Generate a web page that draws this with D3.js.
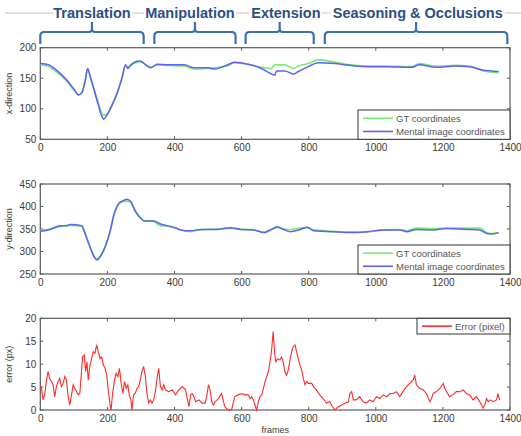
<!DOCTYPE html>
<html><head><meta charset="utf-8">
<script src="https://cdn.jsdelivr.net/npm/d3@7"></script>
<style>
body{margin:0;background:#fff;}
text{font-family:"Liberation Sans",Arial,sans-serif;}
</style></head>
<body><svg id="c" width="521" height="436"></svg>
<script>
// ---- data ----
const phaseNames = ["Translation","Manipulation","Extension","Seasoning & Occlusions"];
const phaseStart = [0,340,612,848];
const phaseEnd = [308,582,815,1392];
const phaseLabelAt = [154,446,732,1125];

const xTicks = [0,200,400,600,800,1000,1200,1400];

const xFrames = [0,24,49,79,99,114,124,134,141,149,169,184,189,199,214,229,244,254,261,269,289,299,314,329,349,379,429,459,499,519,559,579,619,659,689,699,704,729,754,769,799,829,879,939,979,1029,1109,1129,1179,1239,1279,1319,1366];
const xMental = [174,172,163,147,133,122.5,126,147,166,152,114,87,83,90,106,125,152,172,166,171,178,178,172,167,173,172,172,167,167,165,172,176,173,166,157,155,162,162,157,161,169,175.5,174,170,169,169,168,172,168,170,169,163.5,161];
const xGT = [172,169,160,145,131,123,127,146,165,153,117,92,90,91,107,127,150,170,168,172,176,177,172,168,172,171,170,165,166,167,171,175,173,168,166,172,172,172,166,170,174,180,176,171,170,170,169,174,170,171,170,162,159];
const xYTicks = [50,100,150,200];

const yFrames = [0,29,59,79,89,124,129,144,159,169,179,194,209,219,234,244,259,269,284,299,309,338,358,378,407,417,447,477,527,567,596,636,666,676,695,705,725,745,775,795,815,874,923,973,1023,1072,1092,1121,1170,1211,1271,1310,1330,1345,1366];
const yMental = [345,349,357,357,360,357,348,318,290,281,289,311,348,381,407,412,416,411,388,374,368,368,361,357,351,348,346,349,349,353,349,348,342,344,351,354,349,344,349,354,346,344,342,344,348,348,344,349,348,351,349,348,340,339,342];
const yGT = [347,350,355,358,358,356,350,320,292,283,290,313,346,379,405,410,412,410,390,375,369,367,357,357,352,349,344,348,350,352,350,348,343,346,352,356,350,349,352,353,348,345,343,343,348,349,346,352,351,352,352,352,342,340,342];
const yYTicks = [250,300,350,400,450];

const eFrames = [0,3,8,13,18,23,28,33,38,43,48,53,58,63,68,73,78,83,88,93,98,103,108,113,118,123,126,131,135,139,143,148,153,158,163,168,173,178,183,188,193,198,203,208,211,215,221,226,231,236,241,246,251,256,261,265,270,273,278,283,288,293,298,303,308,313,318,323,328,333,338,343,348,353,358,363,368,373,383,393,403,413,423,433,438,443,448,453,458,463,473,483,491,496,501,506,511,516,521,531,540,545,550,560,570,575,580,590,600,610,620,625,630,635,640,645,650,655,660,665,670,675,680,684,689,694,699,702,707,714,719,724,729,734,739,744,749,754,759,764,769,774,779,784,789,794,799,809,814,823,833,843,853,863,868,878,888,898,908,918,923,928,933,942,952,962,972,982,992,1002,1012,1022,1032,1042,1052,1062,1071,1081,1091,1101,1111,1116,1121,1131,1141,1151,1161,1166,1171,1181,1191,1201,1206,1211,1220,1230,1240,1250,1260,1270,1280,1290,1300,1310,1320,1325,1330,1335,1340,1350,1360,1364,1369];
const eValues = [4.4,5.1,2.2,3.3,6.2,8.4,6.9,6.2,5.5,2.9,5.1,6.2,6.9,5.1,5.8,7.3,6.5,2.9,1.1,3.3,5.5,4.7,4.0,3.3,3.6,8.7,11.6,12.0,8.4,10.5,6.5,9.8,11.2,12.7,12.4,14.2,12.7,11.2,11.6,9.8,9.1,7.6,4.0,1.1,0,3.3,6.5,8.0,7.3,9.1,5.8,3.6,6.2,4.7,5.5,3.3,2.2,0,3.3,3.6,4.7,5.1,6.5,8.4,9.5,7.3,3.6,1.5,2.2,1.5,2.2,4.0,6.9,9.1,5.1,4.4,5.5,4.4,4.0,4.4,3.3,4.4,5.1,4.4,2.5,0.7,3.3,3.6,2.9,1.8,2.2,1.5,1.5,2.9,5.5,4.4,1.8,1.1,1.8,2.5,3.6,2.2,0.7,0,0,1.5,2.9,3.3,3.6,3.3,3.3,2.5,2.9,2.2,1.1,0,1.8,2.9,3.3,4.7,6.2,7.3,8.4,10.2,12.7,17.1,12.0,10.5,11.2,10.9,11.6,10.5,8.4,7.6,8.7,10.9,12.7,13.8,14.2,12.7,11.2,9.8,8.7,6.9,5.5,6.2,5.8,5.8,5.1,4.4,3.3,2.5,1.5,1.8,1.1,0,0.7,1.1,1.5,1.8,3.6,4.0,2.2,2.2,2.9,1.8,1.5,2.2,1.8,2.9,2.5,3.3,2.9,3.6,3.6,4.0,2.9,4.0,5.1,5.8,6.5,7.6,5.5,4.7,4.4,3.6,1.8,2.5,3.6,4.0,4.7,5.8,4.7,4.0,2.9,3.3,4.0,4.0,4.4,3.6,3.3,2.2,2.9,1.8,0.4,1.1,2.5,1.8,2.2,1.8,2.2,3.6,2.2];
const eYTicks = [0,5,10,15,20];

// ---- drawing ----
const svg = d3.select("#c");
const L = 40.3, R = 510;
const x = d3.scaleLinear().domain([0,1400]).range([L,R]);
const axisCol = "#5a5a5a", labCol = "#3a3a3a";

// header line
svg.append("line").attr("x1",5).attr("x2",521).attr("y1",13).attr("y2",13)
  .attr("stroke","#c4c4c4").attr("stroke-width",1);
// header labels
svg.selectAll("text.ph").data(phaseNames).join("text").attr("class","ph")
  .attr("x",(d,i)=>x(phaseLabelAt[i])).attr("y",18).attr("text-anchor","middle")
  .attr("font-size",14.5).attr("font-weight","bold").attr("fill","#2c4e86")
  .attr("stroke","#fff").attr("stroke-width",5).attr("paint-order","stroke")
  .text(d=>d);
// brackets
phaseNames.forEach((n,i)=>{
  const a = x(phaseStart[i]), b = x(phaseEnd[i]), m = (a+b)/2;
  const top = 32, bot = 44;
  const p = `M${a},${bot} L${a},${top+4} Q${a},${top} ${a+4},${top} L${m-3},${top} Q${m},${top} ${m},${top-3} L${m},${top-10} M${m},${top-3} Q${m},${top} ${m+3},${top} L${b-4},${top} Q${b},${top} ${b},${top+4} L${b},${bot}`;
  svg.append("path").attr("d",p).attr("fill","none").attr("stroke","#3d6db3").attr("stroke-width",2.2);
});

function panel(top, bottom, yDomain, yTicks, ylabel){
  const y = d3.scaleLinear().domain(yDomain).range([bottom, top]);
  const g = svg.append("g");
  xTicks.forEach(t=>{
    g.append("line").attr("x1",x(t)).attr("x2",x(t)).attr("y1",bottom).attr("y2",bottom-3).attr("stroke",axisCol);
    g.append("line").attr("x1",x(t)).attr("x2",x(t)).attr("y1",top).attr("y2",top+3).attr("stroke",axisCol);
  });
  yTicks.forEach(t=>{
    g.append("line").attr("x1",L).attr("x2",L+3).attr("y1",y(t)).attr("y2",y(t)).attr("stroke",axisCol);
    g.append("line").attr("x1",R).attr("x2",R-3).attr("y1",y(t)).attr("y2",y(t)).attr("stroke",axisCol);
  });
  g.append("rect").attr("x",L).attr("y",top).attr("width",R-L).attr("height",bottom-top)
    .attr("fill","none").attr("stroke",axisCol).attr("stroke-width",1.2);
  const xa = d3.axisBottom(x).tickValues(xTicks).tickSize(0).tickPadding(5).tickFormat(d3.format("d"));
  const gx = svg.append("g").attr("transform",`translate(0,${bottom})`).call(xa);
  gx.select(".domain").remove();
  gx.selectAll("text").attr("font-size",10).attr("fill",labCol).attr("font-family","Liberation Sans,Arial,sans-serif");
  const ya = d3.axisLeft(y).tickValues(yTicks).tickSize(0).tickPadding(4).tickFormat(d3.format("d"));
  const gy = svg.append("g").attr("transform",`translate(${L},0)`).call(ya);
  gy.select(".domain").remove();
  gy.selectAll("text").attr("font-size",10).attr("fill",labCol).attr("font-family","Liberation Sans,Arial,sans-serif");
  svg.append("text").attr("transform",`translate(12,${(top+bottom)/2}) rotate(-90)`)
    .attr("text-anchor","middle").attr("font-size",9).attr("fill",labCol).text(ylabel);
  return y;
}

function legend(x1, y1, x2, y2, items){
  svg.append("rect").attr("x",x1).attr("y",y1).attr("width",x2-x1).attr("height",y2-y1)
    .attr("fill","#fff").attr("stroke","#333").attr("stroke-width",1);
  items.forEach((it,i)=>{
    const yy = y1 + (y2-y1)*(i+0.5)/items.length + (items.length>1 ? (i===0?1:-0.5):0);
    svg.append("line").attr("x1",x1+5).attr("x2",x1+35).attr("y1",yy).attr("y2",yy)
      .attr("stroke",it.c).attr("stroke-width",1.6);
    svg.append("text").attr("x",x1+38).attr("y",yy+3.5).attr("font-size",9.5).attr("fill","#555").text(it.t);
  });
}

function drawLine(y, fr, vals, col, w){
  const ln = d3.line().x((d,i)=>x(fr[i])).y(d=>y(d)).curve(d3.curveMonotoneX);
  svg.append("path").datum(vals).attr("d",ln).attr("fill","none").attr("stroke",col).attr("stroke-width",w);
}

const green = "#74ec74", blue = "#6060f2", red = "#ff2a2a";

const y1 = panel(47.7, 139.3, [50,200], xYTicks, "x-direction");
drawLine(y1, xFrames, xGT, green, 1.6);
drawLine(y1, xFrames, xMental, blue, 1.5);
legend(358, 110, 510, 139.3, [{c:green,t:"GT coordinates"},{c:blue,t:"Mental image coordinates"}]);

const y2 = panel(184, 274, [250,450], yYTicks, "y-direction");
drawLine(y2, yFrames, yGT, green, 1.6);
drawLine(y2, yFrames, yMental, blue, 1.5);
legend(358, 245, 510, 274, [{c:green,t:"GT coordinates"},{c:blue,t:"Mental image coordinates"}]);

const y3 = panel(318.3, 410, [0,20], eYTicks, "error (px)");
const eln = d3.line().x((d,i)=>x(eFrames[i])).y(d=>y3(d)).curve(d3.curveLinear);
svg.append("path").datum(eValues).attr("d",eln).attr("fill","none").attr("stroke",red).attr("stroke-width",1.1);
legend(417, 318.3, 510, 334, [{c:red,t:"Error (pixel)"}]);

svg.append("text").attr("x",x(700)).attr("y",433).attr("text-anchor","middle")
  .attr("font-size",9).attr("fill",labCol).text("frames");
</script></body></html>
